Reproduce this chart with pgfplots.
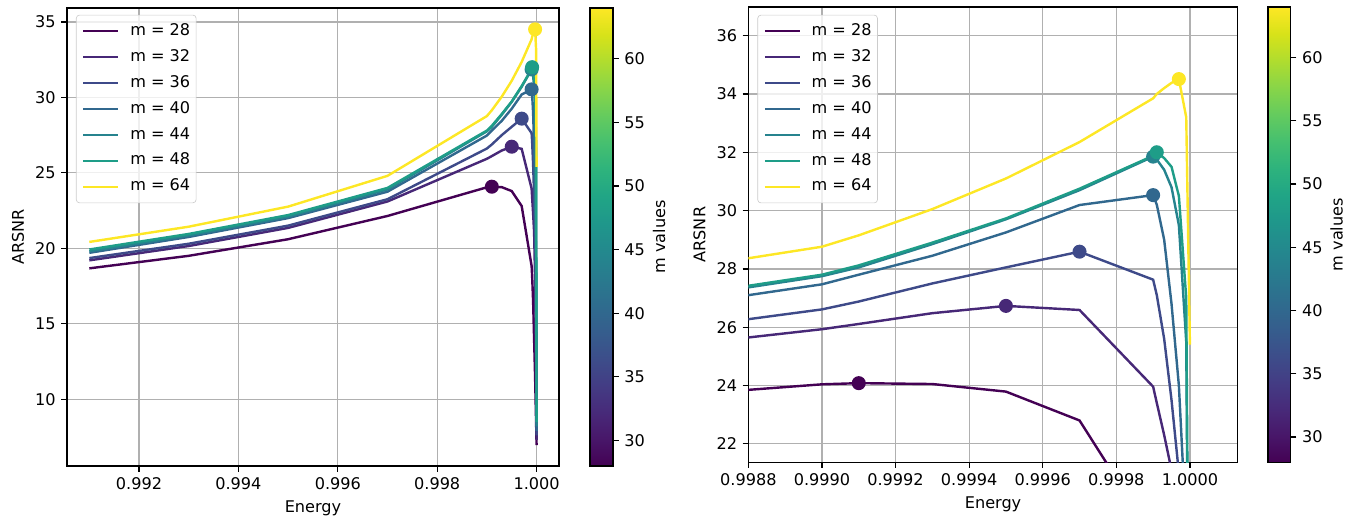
\documentclass[border=0pt]{standalone}
\usepackage{fontspec}
\setmainfont{DejaVu Sans}
\usepackage{pgfplots}
\pgfplotsset{compat=1.18}
\usepackage{pgfplotstable}

\definecolor{c28}{HTML}{440154}
\definecolor{c32}{HTML}{472877}
\definecolor{c36}{HTML}{3E4A89}
\definecolor{c40}{HTML}{31688E}
\definecolor{c44}{HTML}{26838E}
\definecolor{c48}{HTML}{1E9D88}
\definecolor{c64}{HTML}{FDE725}

\pgfplotstableread{
E       m28   m32   m36   m40   m44   m48   m64
0.991   18.67 19.20 19.35 19.70 19.80 19.92 20.42
0.993   19.50 20.15 20.30 20.75 20.85 20.95 21.43
0.995   20.60 21.35 21.50 22.00 22.10 22.20 22.76
0.997   22.14 23.10 23.25 23.75 23.90 24.00 24.80
0.999   24.04 25.93 26.61 27.47 27.75 27.80 28.76
0.9991  24.08 26.11 26.88 27.80 28.05 28.12 29.15
0.9993  24.05 26.48 27.50 28.45 28.85 28.90 30.05
0.9995  23.79 26.73 28.05 29.25 29.70 29.73 31.10
0.9997  22.80 26.59 28.59 30.19 30.70 30.75 32.35
0.9999  18.83 23.96 27.63 30.53 31.85 31.88 33.85
0.99991 18.20 23.40 27.10 30.20 31.75 32.00 34.00
0.99993 16.50 22.30 25.60 29.00 31.40 31.80 34.20
0.99995 14.00 21.10 23.50 26.80 30.80 31.50 34.38
0.99997 11.50 18.00 21.00 24.00 29.50 30.50 34.51
0.99999  8.50 12.00 15.00 19.00 25.50 27.00 33.20
1.0      6.96  7.30  7.60  7.90  8.20  8.50 25.40
}\data

\pgfplotsset{
  mystyle/.style={
    scale only axis,
    axis line style={black, line width=0.8pt},
    grid=major,
    major grid style={color=black!31, line width=0.8pt},
    tick align=outside,
    major tick length=3.5pt,
    tick style={black, line width=0.8pt},
    xtick pos=left, ytick pos=left,
    ticklabel style={font=\fontsize{10}{12}\selectfont},
    label style={font=\fontsize{10}{12}\selectfont},
    /pgf/number format/assume math mode=true,
    colormap/viridis,
    point meta min=28, point meta max=64,
    every axis plot/.append style={line width=1.5pt},
    legend cell align=left,
    legend image code/.code={\draw[##1] (0pt,0pt) -- (21.7pt,0pt);},
    legend style={anchor=north west, draw=black!20, fill=white,
      fill opacity=0.8, draw opacity=1, text opacity=1,
      rounded corners=2pt, font=\fontsize{10}{12}\selectfont,
      inner xsep=3.7pt, inner ysep=5pt, row sep=6.1pt, column sep=6.6pt,
      nodes={inner sep=0pt, text height=7.6pt, text depth=2.4pt}},
    colorbar,
    colorbar style={
      at={(parent axis.north east)}, anchor=north west,
      scale only axis,
      ytick={30,35,...,60},
      yticklabel pos=right, ytick pos=right,
      tick align=outside, major tick length=3.5pt,
      tick style={black, line width=0.8pt},
      axis line style={black, line width=0.8pt},
      yticklabel style={font=\fontsize{10}{12}\selectfont},
      ylabel style={font=\fontsize{10}{12}\selectfont},
      /pgf/number format/assume math mode=true,
      ylabel={m values}, ylabel near ticks, ylabel shift=-2pt,
    },
  }
}

\begin{document}
\begin{tikzpicture}
\useasboundingbox (0,0) rectangle (843.3pt,323.5pt);

\begin{axis}[mystyle,
  at={(41.6pt,34.2pt)}, anchor=south west,
  width=305.5pt, height=284.4pt,
  xmin=0.99055, xmax=1.00045, ymin=5.58, ymax=35.93,
  xtick={0.992,0.994,0.996,0.998,1.0},
  xticklabels={0.992,0.994,0.996,0.998,1.000},
  ytick={10,15,20,25,30,35},
  xlabel={Energy}, ylabel={ARSNR},
  legend style={at={(0.0183,0.985)}},
  colorbar style={xshift=10.8pt, width=14.3pt, height=284.4pt},
]
\addplot[color=c28] table[x=E,y=m28] {\data}; \addlegendentry{m = 28}
\addplot[only marks, mark=*, mark size=3.6pt, color=c28, forget plot] coordinates {(0.9991,24.08)};
\addplot[color=c32] table[x=E,y=m32] {\data}; \addlegendentry{m = 32}
\addplot[only marks, mark=*, mark size=3.6pt, color=c32, forget plot] coordinates {(0.9995,26.73)};
\addplot[color=c36] table[x=E,y=m36] {\data}; \addlegendentry{m = 36}
\addplot[only marks, mark=*, mark size=3.6pt, color=c36, forget plot] coordinates {(0.9997,28.59)};
\addplot[color=c40] table[x=E,y=m40] {\data}; \addlegendentry{m = 40}
\addplot[only marks, mark=*, mark size=3.6pt, color=c40, forget plot] coordinates {(0.9999,30.53)};
\addplot[color=c44] table[x=E,y=m44] {\data}; \addlegendentry{m = 44}
\addplot[only marks, mark=*, mark size=3.6pt, color=c44, forget plot] coordinates {(0.9999,31.85)};
\addplot[color=c48] table[x=E,y=m48] {\data}; \addlegendentry{m = 48}
\addplot[only marks, mark=*, mark size=3.6pt, color=c48, forget plot] coordinates {(0.99991,32.00)};
\addplot[color=c64] table[x=E,y=m64] {\data}; \addlegendentry{m = 64}
\addplot[only marks, mark=*, mark size=3.6pt, color=c64, forget plot] coordinates {(0.99997,34.51)};
\end{axis}

\begin{axis}[mystyle,
  at={(464.7pt,36.5pt)}, anchor=south west,
  width=303.9pt, height=282.6pt,
  xmin=0.9988, xmax=1.00013, ymin=21.37, ymax=36.98,
  xtick={0.9988,0.999,0.9992,0.9994,0.9996,0.9998,1.0},
  xticklabels={0.9988,0.9990,0.9992,0.9994,0.9996,0.9998,1.0000},
  ytick={22,24,26,28,30,32,34,36},
  xlabel={Energy}, ylabel={ARSNR},
  legend style={at={(0.0184,0.983)}},
  colorbar style={xshift=10.3pt, width=14.1pt, height=282.6pt},
]
\addplot[color=c28] table[x=E,y=m28] {\data}; \addlegendentry{m = 28}
\addplot[only marks, mark=*, mark size=3.6pt, color=c28, forget plot] coordinates {(0.9991,24.08)};
\addplot[color=c32] table[x=E,y=m32] {\data}; \addlegendentry{m = 32}
\addplot[only marks, mark=*, mark size=3.6pt, color=c32, forget plot] coordinates {(0.9995,26.73)};
\addplot[color=c36] table[x=E,y=m36] {\data}; \addlegendentry{m = 36}
\addplot[only marks, mark=*, mark size=3.6pt, color=c36, forget plot] coordinates {(0.9997,28.59)};
\addplot[color=c40] table[x=E,y=m40] {\data}; \addlegendentry{m = 40}
\addplot[only marks, mark=*, mark size=3.6pt, color=c40, forget plot] coordinates {(0.9999,30.53)};
\addplot[color=c44] table[x=E,y=m44] {\data}; \addlegendentry{m = 44}
\addplot[only marks, mark=*, mark size=3.6pt, color=c44, forget plot] coordinates {(0.9999,31.85)};
\addplot[color=c48] table[x=E,y=m48] {\data}; \addlegendentry{m = 48}
\addplot[only marks, mark=*, mark size=3.6pt, color=c48, forget plot] coordinates {(0.99991,32.00)};
\addplot[color=c64] table[x=E,y=m64] {\data}; \addlegendentry{m = 64}
\addplot[only marks, mark=*, mark size=3.6pt, color=c64, forget plot] coordinates {(0.99997,34.51)};
\end{axis}
\end{tikzpicture}
\end{document}
